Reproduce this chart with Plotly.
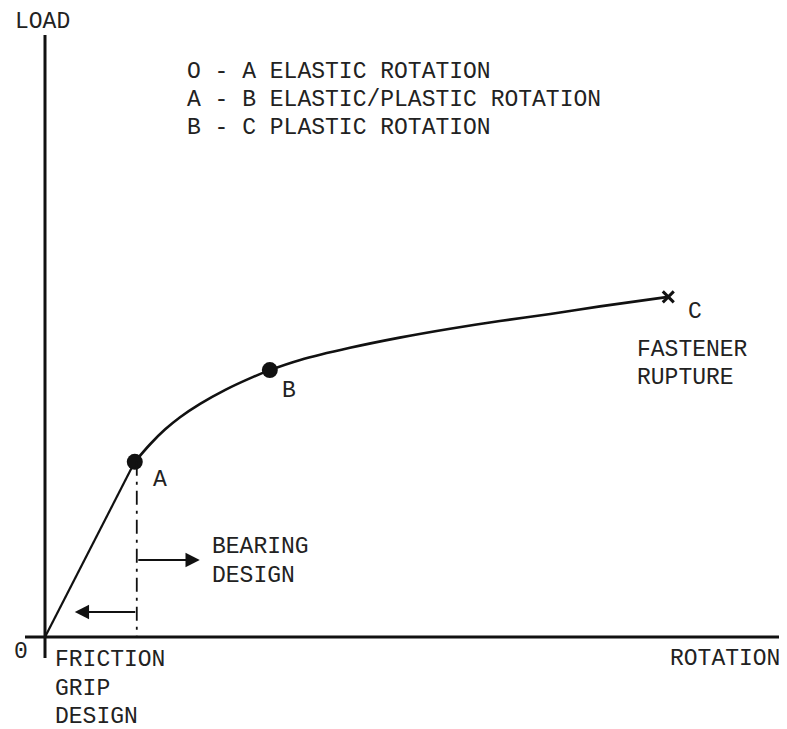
import plotly.graph_objects as go

# The page body has an 8px margin, so the figure is made 8px smaller on the
# right/bottom and all reference-pixel positions are shifted by that offset.
PAGE_W, PAGE_H = 787, 729
OFF = 8
W, H = PAGE_W - OFF, PAGE_H - OFF

# --- data (rotation, load) in arbitrary units ---
elastic_rot = [0.0, 1.21]
elastic_load = [0.0, 2.75]

curve_rot = [1.21, 1.42, 1.62, 1.82, 2.09, 2.43, 2.76, 3.03, 3.44, 4.11, 4.78, 5.46, 6.13, 6.81, 7.48, 8.40]
curve_load = [2.75, 3.03, 3.26, 3.45, 3.66, 3.88, 4.06, 4.19, 4.35, 4.54, 4.70, 4.84, 4.96, 5.07, 5.19, 5.34]

point_names = ["A", "B"]
point_rot = [1.21, 3.03]
point_load = [2.75, 4.19]

rupture_rot = [8.40]
rupture_load = [5.34]

legend_lines = ["O - A ELASTIC ROTATION",
                "A - B ELASTIC/PLASTIC ROTATION",
                "B - C PLASTIC ROTATION"]

FONT = "Liberation Mono, Courier New, monospace"
INK = "#111111"
TXT = "#222222"
FS = 23

# reference-pixel position of the origin and scale
X0_REF, Y0_REF = 45, 637
XPU, YPU = 74.2, 63.7
X0_FIG, Y0_FIG = X0_REF - OFF, Y0_REF - OFF
x_range = [-X0_FIG / XPU, (W - X0_FIG) / XPU]
y_range = [-(H - Y0_FIG) / YPU, Y0_FIG / YPU]


def paper(px, py):
    return (px - OFF) / W, 1 - (py - OFF) / H


fig = go.Figure()

fig.add_trace(go.Scatter(x=elastic_rot, y=elastic_load, mode="lines",
                         line=dict(color=INK, width=2.2), hoverinfo="skip"))
fig.add_trace(go.Scatter(x=curve_rot, y=curve_load, mode="lines",
                         line=dict(color=INK, width=2.6, shape="spline", smoothing=0.8),
                         hoverinfo="skip"))
fig.add_trace(go.Scatter(x=point_rot, y=point_load, mode="markers",
                         marker=dict(color=INK, size=16), hoverinfo="skip"))
fig.add_trace(go.Scatter(x=rupture_rot, y=rupture_load, mode="markers",
                         marker=dict(color=INK, size=11, symbol="x-thin",
                                     line=dict(color=INK, width=3)),
                         hoverinfo="skip"))

# axes drawn as lines
fig.add_shape(type="line", x0=0, x1=0, y0=-21 / YPU, y1=(Y0_REF - 35) / YPU,
              line=dict(color=INK, width=3))
fig.add_shape(type="line", x0=-20 / XPU, x1=x_range[1], y0=0, y1=0,
              line=dict(color=INK, width=3))

# dash-dot drop line from A
xa = point_rot[0] + 2 / XPU
fig.add_shape(type="line", x0=xa, x1=xa, y0=point_load[0], y1=0,
              line=dict(color=INK, width=1.8, dash="14px,6px,3px,6px"))

# arrows: bearing (right) and friction grip (left)
fig.add_annotation(x=xa + 63 / XPU, y=(Y0_REF - 560) / YPU, ax=xa, ay=(Y0_REF - 560) / YPU,
                   xref="x", yref="y", axref="x", ayref="y", text="", showarrow=True,
                   arrowhead=2, arrowsize=1.3, arrowwidth=2.2, arrowcolor=INK, standoff=0)
fig.add_annotation(x=xa - 62 / XPU, y=(Y0_REF - 612) / YPU, ax=xa, ay=(Y0_REF - 612) / YPU,
                   xref="x", yref="y", axref="x", ayref="y", text="", showarrow=True,
                   arrowhead=2, arrowsize=1.3, arrowwidth=2.2, arrowcolor=INK, standoff=0)


def label(text, px, py, anchor="left", yanchor="middle"):
    x, y = paper(px, py)
    fig.add_annotation(x=x, y=y, xref="paper", yref="paper", text=text,
                       showarrow=False, xanchor=anchor, yanchor=yanchor, borderpad=0,
                       font=dict(family=FONT, size=FS, color=TXT))


label("LOAD", 14, 8, yanchor="top")
label("0", 13, 652)
for i, t in enumerate(legend_lines):
    label(t, 186, 72 + 28 * i)
label(point_names[0], 152, 480)
label(point_names[1], 281, 391)
label("C", 687, 312)
label("FASTENER", 636, 350)
label("RUPTURE", 636, 378)
label("BEARING", 211, 547)
label("DESIGN", 211, 576)
label("FRICTION", 54, 660)
label("GRIP", 54, 689)
label("DESIGN", 54, 717)
label("ROTATION", 669, 659)

fig.update_layout(
    width=W, height=H,
    margin=dict(l=0, r=0, t=0, b=0),
    paper_bgcolor="white", plot_bgcolor="white",
    showlegend=False,
    xaxis=dict(range=x_range, visible=False, fixedrange=True),
    yaxis=dict(range=y_range, visible=False, fixedrange=True),
)

fig.write_html("out.html")
